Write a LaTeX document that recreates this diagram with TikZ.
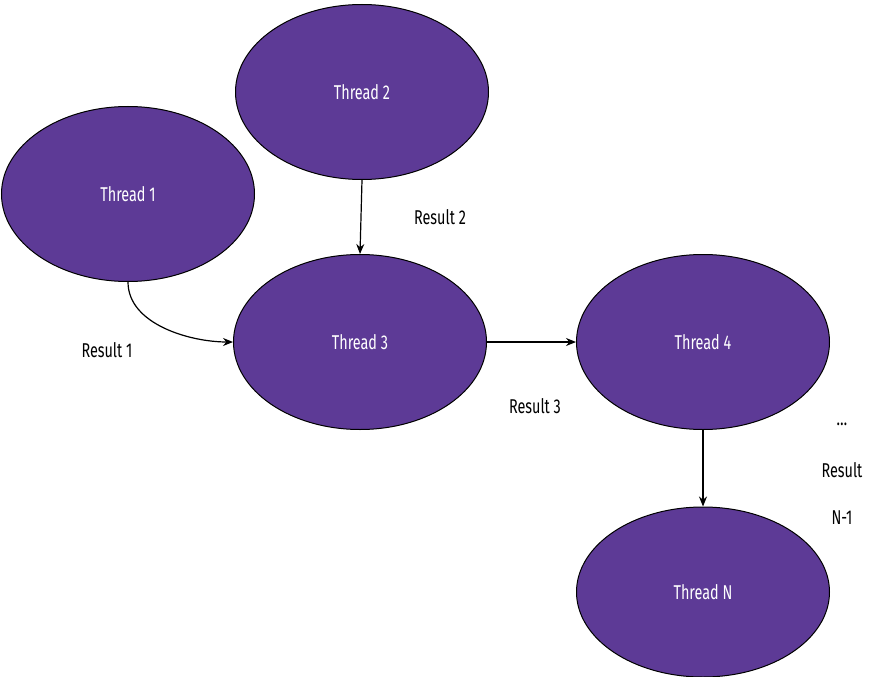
\documentclass[tikz,border=0pt]{standalone}
\usepackage{fontspec}
\setmainfont[FakeStretch=0.72]{Fira Sans}
\usetikzlibrary{shapes.geometric,arrows.meta}
\begin{document}
\begin{tikzpicture}[x=1pt,y=-1pt,
  th/.style={ellipse,draw=black,line width=1pt,fill=violet!60!blue!70!black,fill={rgb,255:red,93;green,58;blue,150},text=white,minimum width=253pt,minimum height=175pt,inner sep=0pt,font=\fontsize{20}{24}\selectfont},
  lab/.style={font=\fontsize{20}{24}\selectfont,text=black},
  arr/.style={-{Stealth[length=10pt,width=8pt]},line width=1.2pt}]
\useasboundingbox (0,0) rectangle (895,677);
\node[th] (t1) at (128,194) {Thread 1};
\node[th] (t2) at (362,92) {Thread 2};
\node[th] (t3) at (360,342) {Thread 3};
\node[th] (t4) at (703,342) {Thread 4};
\node[th,minimum height=170pt] (tn) at (703,592) {Thread N};
\draw[arr] (t2.south) -- (t3.north);
\draw[arr] (t1.south) to[out=-90,in=180,looseness=0.9] (t3.west);
\draw[arr] (t3.east) -- (t4.west);
\draw[arr] (t4.south) -- (tn.north);
\node[lab] (r2) at (440,217) {Result 2};
\node[lab] (r1) at (107,350) {Result 1};
\node[lab] (r3) at (535,406) {Result 3};
\node[lab] (dd) at (842,424) {\dots};
\node[lab] (rn) at (842,470) {Result};
\node[lab] (n1) at (842,518) {N-1};
\end{tikzpicture}
\end{document}
